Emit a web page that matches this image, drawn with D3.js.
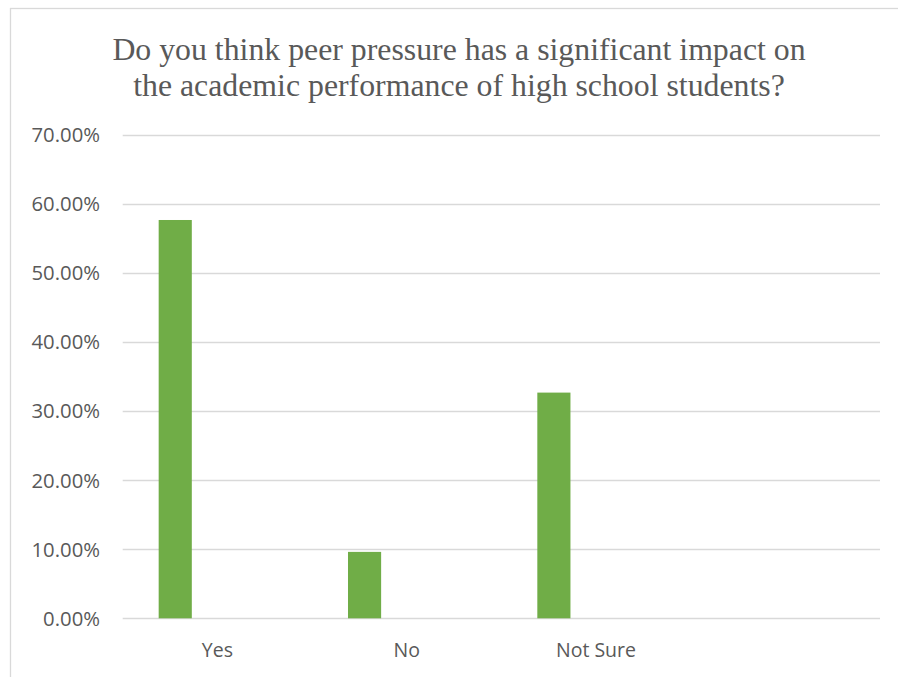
<!DOCTYPE html>
<html>
<head>
<meta charset="utf-8">
<script src="https://cdn.jsdelivr.net/npm/d3@7"></script>
<style>
  body { margin: 0; background: #fff; }
  svg { display: block; }
  .title { font-family: "Liberation Serif", "DejaVu Serif", "Noto Serif", serif; }
</style>
</head>
<body>
<div id="chart"></div>
<script>
// Daten
var categories = ["Yes", "No", "Not Sure", ""];
var values = [57.69, 9.62, 32.69, null];
var yTicks = [0, 10, 20, 30, 40, 50, 60, 70];
var titleLines = ["Do you think peer pressure has a significant impact on",
                  "the academic performance of high school students?"];

var width = 898, height = 677;
var margin = { left: 122.7, right: 18, top: 135, bottom: 58.7 };

var svg = d3.select("#chart")
  .append("svg")
  .attr("width", width)
  .attr("height", height);

// Rahmen (geht über das Bild hinaus)
svg.append("rect")
  .attr("x", 10.5).attr("y", 8.5)
  .attr("width", 1000).attr("height", 1000)
  .style("fill", "none")
  .style("stroke", "#d9d9d9")
  .style("stroke-width", 1.3);

// Titel
svg.append("g").selectAll("text")
  .data(titleLines)
  .enter().append("text")
  .attr("class", "title")
  .attr("x", 459)
  .attr("y", function(d, i) { return 60 + i * 35.5; })
  .attr("text-anchor", "middle")
  .style("font-size", "31.8px")
  .style("fill", "#595959")
  .text(function(d) { return d; });

var x = d3.scaleBand()
  .domain(categories)
  .range([margin.left, width - margin.right]);

var y = d3.scaleLinear()
  .domain([0, 70])
  .range([height - margin.bottom, margin.top]);

// Gitterlinien
svg.append("g").selectAll("line")
  .data(yTicks)
  .enter().append("line")
  .attr("x1", margin.left)
  .attr("x2", width - margin.right)
  .attr("y1", function(d) { return Math.round(y(d)) + 0.5; })
  .attr("y2", function(d) { return Math.round(y(d)) + 0.5; })
  .style("stroke", "#d9d9d9")
  .style("stroke-width", 1.3);

// y-Achse Beschriftung
svg.append("g").selectAll("text")
  .data(yTicks)
  .enter().append("text")
  .attr("x", 100)
  .attr("y", function(d) { return y(d); })
  .attr("dy", "0.36em")
  .attr("text-anchor", "end")
  .style("font-family", "'Open Sans', sans-serif")
  .style("font-size", "20.3px")
  .style("fill", "#595959")
  .text(function(d) { return d3.format(".2f")(d) + "%"; });

// Balken
var bw = x.bandwidth();
svg.append("g").selectAll("rect")
  .data(categories.map(function(c, i) { return { cat: c, v: values[i] }; })
    .filter(function(d) { return d.v != null; }))
  .enter().append("rect")
  .attr("x", function(d) { return x(d.cat) + bw * 0.19; })
  .attr("width", bw * 0.175)
  .attr("y", function(d) { return y(d.v); })
  .attr("height", function(d) { return y(0) - y(d.v); })
  .style("fill", "#70ad47");

// x-Achse Beschriftung
svg.append("g").selectAll("text")
  .data(categories)
  .enter().append("text")
  .attr("x", function(d) { return x(d) + bw / 2; })
  .attr("y", 657)
  .attr("text-anchor", "middle")
  .style("font-family", "'Open Sans', sans-serif")
  .style("font-size", "19.5px")
  .style("fill", "#595959")
  .text(function(d) { return d; });
</script>
</body>
</html>
